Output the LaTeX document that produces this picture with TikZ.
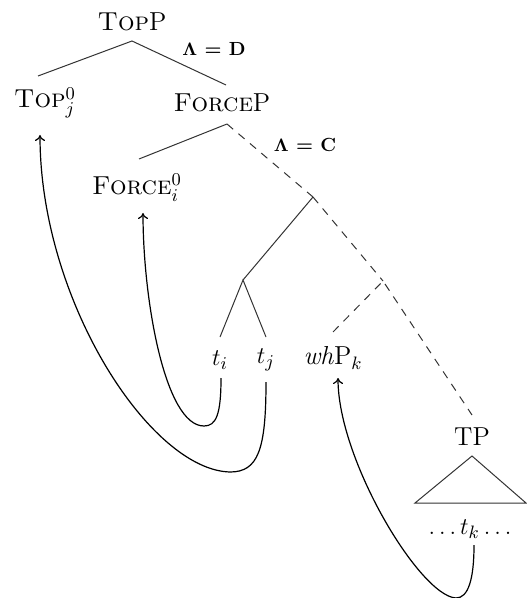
\documentclass[tikz,border=0pt]{standalone}
\usepackage{amsmath}
\usetikzlibrary{arrows.meta}
\begin{document}
\begin{tikzpicture}[x=0.5pt,y=-0.5pt,
  lbl/.style={inner sep=0pt,font=\fontsize{13}{15}\selectfont},
  lam/.style={inner sep=0pt,font=\fontsize{9.5}{11}\selectfont\bfseries},
  branch/.style={draw=black!80,line width=0.5pt},
  dbranch/.style={branch,dash pattern=on 4pt off 3.5pt},
  mv/.style={draw=black,line width=0.6pt,-{To[length=3pt,width=5pt]}}]
\useasboundingbox (0,0) rectangle (526,598);
% nodes
\node[lbl] (topp) at (132,22) {\textsc{Top}P};
\node[lbl] (top0) at (45,103) {\textsc{Top}$^0_j$};
\node[lbl] (forcep) at (222,103) {\textsc{Force}P};
\node[lbl] (force0) at (137,188) {\textsc{Force}$^0_i$};
\node[lbl] (ti) at (220,360) {$t_i$};
\node[lbl] (tj) at (266,360) {$t_j$};
\node[lbl] (whp) at (333,358) {\textit{wh}P$_k$};
\node[lbl] (tp) at (472,437) {TP};
\node[lbl] (tk) at (472,529) {$\dots t_k\dots$};
\node[lam] (lamd) at (214,49) {$\boldsymbol{\Lambda}$ = D};
\node[lam] (lamc) at (305,145) {$\boldsymbol{\Lambda}$ = C};
% branch points
\coordinate (a1) at (132,41);
\coordinate (a1l) at (38,76);
\coordinate (a1r) at (226,85);
\coordinate (a2) at (227,124);
\coordinate (a2l) at (139,159);
\coordinate (a3) at (313,197);
\coordinate (a4) at (243,280);
\coordinate (a4l) at (220,337);
\coordinate (a4r) at (266,337);
\coordinate (a5) at (383,281);
\coordinate (a5l) at (333,332);
\coordinate (a5r) at (472,415);
\coordinate (tri) at (472,456);
\coordinate (tril) at (415,503);
\coordinate (trir) at (526,503);
% tree
\draw[branch] (a1l) -- (a1) -- (a1r);
\draw[branch] (a2l) -- (a2);
\draw[dbranch] (a2) -- (a3);
\draw[branch] (a3) -- (a4);
\draw[dbranch] (a3) -- (a5);
\draw[branch] (a4l) -- (a4) -- (a4r);
\draw[dbranch] (a5l) -- (a5) -- (a5r);
\draw[branch] (tri) -- (tril) -- (trir) -- cycle;
% movement arrows
\coordinate (ti0) at (221,378);
\coordinate (ti1) at (204,426);
\coordinate (fo) at (143,213);
\draw[mv] (ti0) .. controls (221,415) and (216,426) .. (ti1)
  .. controls (165,426) and (143,300) .. (fo);
\coordinate (tj0) at (266,382);
\coordinate (tj1) at (230,472);
\coordinate (to) at (40,135);
\draw[mv] (tj0) .. controls (266,450) and (258,472) .. (tj1)
  .. controls (150,470) and (40,300) .. (to);
\coordinate (tk0) at (474,545);
\coordinate (tk1) at (456,598);
\coordinate (wh) at (338,378);
\draw[mv] (tk0) .. controls (474,580) and (468,598) .. (tk1)
  .. controls (420,596) and (338,460) .. (wh);
\end{tikzpicture}
\end{document}
